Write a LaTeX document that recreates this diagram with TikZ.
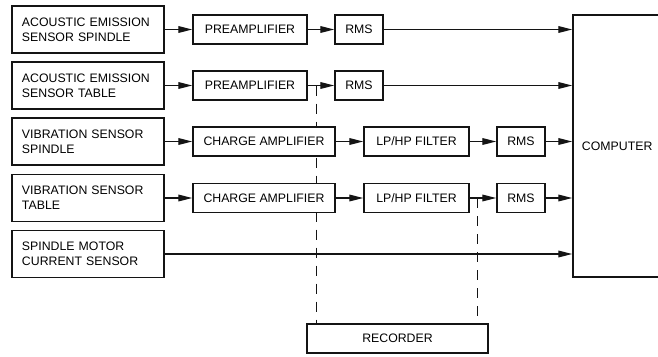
\documentclass[tikz,border=0pt]{standalone}
\usepackage{fontspec}
\setmainfont{Liberation Sans}
\usetikzlibrary{arrows.meta,calc,backgrounds}
\usepackage{xcolor}
\definecolor{lineblack}{RGB}{20,20,20}

\begin{document}
\begin{tikzpicture}[x=0.03cm, y=-0.03cm, font=\fontsize{10.5}{12.8}\selectfont,
  sensorbox/.style={draw=lineblack, fill=white, line width=1.6pt, minimum width=4.56cm, minimum height=1.41cm, text width=3.96cm, align=left, inner xsep=0.3cm, inner ysep=0pt},
  procbox/.style={draw=lineblack, fill=white, line width=1.2pt, minimum height=0.87cm, inner sep=0pt},
  flow/.style={-{Triangle[length=0.42cm, width=0.2cm]}, draw=lineblack, line width=1.1pt},
  tapline/.style={draw=lineblack, line width=1.1pt, dash pattern=on 0.3cm off 0.24cm}]
\useasboundingbox (0,0) rectangle (658,356);
\clip (0,0) rectangle (658,356);

% sensors
\node[sensorbox] (aes1) at (88,29.5) {ACOUSTIC EMISSION\\SENSOR SPINDLE};
\node[sensorbox] (aes2) at (88,85.5) {ACOUSTIC EMISSION\\SENSOR TABLE};
\node[sensorbox] (vs1) at (88,141.5) {VIBRATION SENSOR\\SPINDLE};
\node[sensorbox] (vs2) at (88,198) {VIBRATION SENSOR\\TABLE};
\node[sensorbox] (cur) at (88,254) {SPINDLE MOTOR\\CURRENT SENSOR};

% signal conditioning
\node[procbox, minimum width=3.42cm] (pre1) at (250,29.5) {PREAMPLIFIER};
\node[procbox, minimum width=3.42cm] (pre2) at (250,85.5) {PREAMPLIFIER};
\node[procbox, minimum width=1.44cm] (rms1) at (359,29.5) {RMS};
\node[procbox, minimum width=1.44cm] (rms2) at (359,85.5) {RMS};
\node[procbox, minimum width=4.26cm] (ca1) at (264,141.5) {CHARGE AMPLIFIER};
\node[procbox, minimum width=4.26cm] (ca2) at (264,198) {CHARGE AMPLIFIER};
\node[procbox, minimum width=3.15cm] (flt1) at (416.5,141.5) {LP/HP FILTER};
\node[procbox, minimum width=3.15cm] (flt2) at (416.5,198) {LP/HP FILTER};
\node[procbox, minimum width=1.44cm] (rms3) at (521,141.5) {RMS};
\node[procbox, minimum width=1.44cm] (rms4) at (521,198) {RMS};

% computer and recorder
\node[procbox, minimum width=4.41cm, minimum height=7.86cm, text width=3.87cm, align=left, inner xsep=0.27cm] (comp) at (646.5,146) {COMPUTER};
\node[procbox, minimum width=5.43cm] (rec) at (397.5,338.5) {RECORDER};

\draw[flow] (aes1) -- (pre1);
\draw[flow] (pre1) -- (rms1);
\draw[flow] (rms1) -- (rms1 -| comp.west);
\draw[flow] (aes2) -- (pre2);
\draw[flow] (pre2) -- (rms2);
\draw[flow] (rms2) -- (rms2 -| comp.west);
\draw[flow] (vs1) -- (ca1);
\draw[flow] (ca1) -- (flt1);
\draw[flow] (flt1) -- (rms3);
\draw[flow] (rms3) -- (rms3 -| comp.west);
\draw[flow] (vs2) -- (ca2);
\draw[flow] (ca2) -- (flt2);
\draw[flow] (flt2) -- (rms4);
\draw[flow] (rms4) -- (rms4 -| comp.west);
\draw[flow] (cur) -- (cur -| comp.west);

% taps to the recorder, behind the boxes
\coordinate (tapa) at ($(pre2.east)!0.32!(rms2.west)$);
\coordinate (tapb) at ($(flt2.east)!0.29!(rms4.west)$);
\begin{pgfonlayer}{background}
\draw[tapline] (tapa) -- (tapa |- rec.north);
\draw[tapline] (tapb) -- (tapb |- rec.north);
\end{pgfonlayer}
\end{tikzpicture}
\end{document}
